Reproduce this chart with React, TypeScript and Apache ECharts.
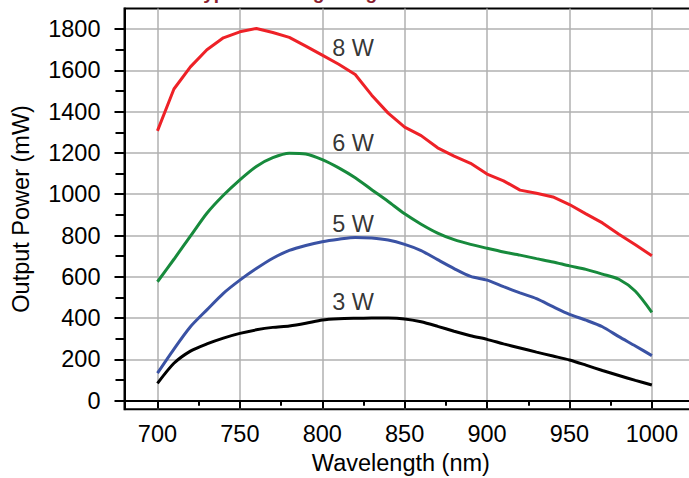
import React, { useEffect, useRef } from "react";
import * as echarts from "echarts";

const wavelengths = [
  700, 710, 720, 730, 740, 750, 760, 770, 780, 790, 800, 810, 820, 830, 840, 850,
  860, 870, 880, 890, 900, 910, 920, 930, 940, 950, 960, 970, 980, 990, 1000,
];

const power8W = [
  1307, 1510, 1617, 1700, 1758, 1787, 1803, 1784, 1760, 1718, 1674, 1630, 1580, 1480, 1393, 1325,
  1284, 1225, 1185, 1150, 1098, 1065, 1020, 1005, 987, 950, 905, 861, 806, 755, 702,
];
const power6W = [
  576, 685, 797, 908, 995, 1070, 1135, 1177, 1199, 1195, 1168, 1128, 1080, 1022, 965, 905,
  855, 812, 780, 757, 738, 720, 705, 688, 672, 653, 636, 613, 588, 530, 428,
];
const power5W = [
  133, 250, 358, 440, 520, 584, 640, 690, 728, 752, 770, 782, 791, 788, 778, 757,
  727, 683, 640, 602, 584, 552, 522, 494, 455, 418, 390, 358, 310, 265, 218,
];
const power3W = [
  84, 181, 240, 275, 303, 326, 343, 355, 362, 375, 391, 397, 399, 400, 400, 396,
  382, 360, 336, 314, 297, 275, 255, 235, 216, 197, 172, 146, 122, 98, 76,
];

const seriesNames = ["8 W", "6 W", "5 W", "3 W"];
const seriesColors = ["#ee2127", "#178a3c", "#3a52a4", "#000000"];
const seriesValues = [power8W, power6W, power5W, power3W];
// label anchors in data coordinates [wavelength, power]
const labelAnchors = [
  [806, 1708],
  [806, 1250],
  [806, 856],
  [806, 478],
];

const xMajorTicks = [700, 750, 800, 850, 900, 950, 1000];
const xMinorTicks = [725, 775, 825, 875, 925, 975];
const yMajorTicks = [0, 200, 400, 600, 800, 1000, 1200, 1400, 1600, 1800];
const yMinorTicks = [100, 300, 500, 700, 900, 1100, 1300, 1500, 1700];

const xTitle = "Wavelength (nm)";
const yTitle = "Output Power (mW)";
const chartTitle = "Typical Tuning Range";

const FONT = "'Liberation Sans', Arial, Helvetica, sans-serif";

export default function App() {
  const ref = useRef<HTMLDivElement>(null);

  useEffect(() => {
    if (!ref.current) return;
    const chart = echarts.init(ref.current, null, { renderer: "svg" });

    const xMin = 680;
    const xMax = 1030;
    const yMin = -42;
    const yMax = 1900;

    const lineSeries = seriesNames.map((name, i) => ({
      name,
      type: "line",
      xAxisIndex: 0,
      yAxisIndex: 0,
      data: wavelengths.map((w, j) => [w, seriesValues[i][j]]),
      showSymbol: false,
      symbol: "none",
      smooth: i === 0 ? false : 0.25,
      lineStyle: { color: seriesColors[i], width: 3 },
      itemStyle: { color: seriesColors[i] },
      z: 5,
    }));

    const labelSeries = seriesNames.map((name, i) => ({
      name: name + " label",
      type: "scatter",
      xAxisIndex: 0,
      yAxisIndex: 0,
      data: [labelAnchors[i]],
      symbolSize: 0,
      silent: true,
      label: {
        show: true,
        position: "right",
        distance: 0,
        formatter: name,
        fontSize: 23.5,
        fontFamily: FONT,
        color: "#000",
      },
      z: 6,
    }));

    const axisLabelStyle = { fontSize: 23.5, fontFamily: FONT, color: "#000" };
    const plainNumber = (v: number) => String(v);

    chart.setOption({
      animation: false,
      backgroundColor: "#ffffff",
      title: {
        text: chartTitle,
        left: 188,
        top: -23,
        textStyle: {
          fontSize: 19,
          fontWeight: "bold",
          fontFamily: FONT,
          color: "#8a1c2c",
          lineHeight: 20,
        },
      },
      grid: {
        left: 124.5,
        right: 0.7,
        top: 8.5,
        bottom: 68.7,
        outerBoundsMode: "none",
        containLabel: false,
        show: true,
        borderColor: "#000",
        borderWidth: 2,
        backgroundColor: "transparent",
      },
      xAxis: [
        {
          type: "value",
          min: xMin,
          max: xMax,
          position: "bottom",
          name: xTitle,
          nameLocation: "middle",
          nameGap: 38,
          nameTextStyle: { ...axisLabelStyle, padding: [0, 24, 0, 0] },
          axisLine: { show: true, lineStyle: { color: "#000", width: 2 } },
          axisTick: {
            show: true,
            customValues: xMajorTicks,
            length: 8,
            lineStyle: { color: "#000", width: 2 },
          },
          axisLabel: {
            ...axisLabelStyle,
            customValues: xMajorTicks,
            margin: 13,
            formatter: plainNumber,
          },
          splitLine: { show: true, lineStyle: { color: "#b0b0b0", width: 1.5 } },
        },
        {
          type: "value",
          min: xMin,
          max: xMax,
          position: "bottom",
          axisLine: { show: false },
          axisTick: {
            show: true,
            customValues: xMinorTicks,
            length: 5,
            lineStyle: { color: "#000", width: 2 },
          },
          axisLabel: { show: false },
          splitLine: { show: false },
        },
      ],
      yAxis: [
        {
          type: "value",
          min: yMin,
          max: yMax,
          position: "left",
          name: yTitle,
          nameLocation: "middle",
          nameGap: 92,
          nameTextStyle: axisLabelStyle,
          axisLine: { show: true, lineStyle: { color: "#000", width: 2 } },
          axisTick: {
            show: true,
            customValues: yMajorTicks,
            length: 10,
            lineStyle: { color: "#000", width: 2 },
          },
          axisLabel: {
            ...axisLabelStyle,
            customValues: yMajorTicks,
            margin: 24,
            formatter: plainNumber,
          },
          splitLine: { show: true, lineStyle: { color: "#b0b0b0", width: 1.5 } },
        },
        {
          type: "value",
          min: yMin,
          max: yMax,
          position: "left",
          axisLine: { show: false },
          axisTick: {
            show: true,
            customValues: yMinorTicks,
            length: 9,
            lineStyle: { color: "#000", width: 2 },
          },
          axisLabel: { show: false },
          splitLine: { show: false },
        },
      ],
      series: [...lineSeries, ...labelSeries],
    });

    return () => {
      chart.dispose();
    };
  }, []);

  return (
    <div
      style={{
        position: "fixed",
        left: 0,
        top: 0,
        width: 689,
        height: 478,
        overflow: "hidden",
        background: "#fff",
      }}
    >
      <div ref={ref} style={{ width: 702, height: 478 }} />
    </div>
  );
}
